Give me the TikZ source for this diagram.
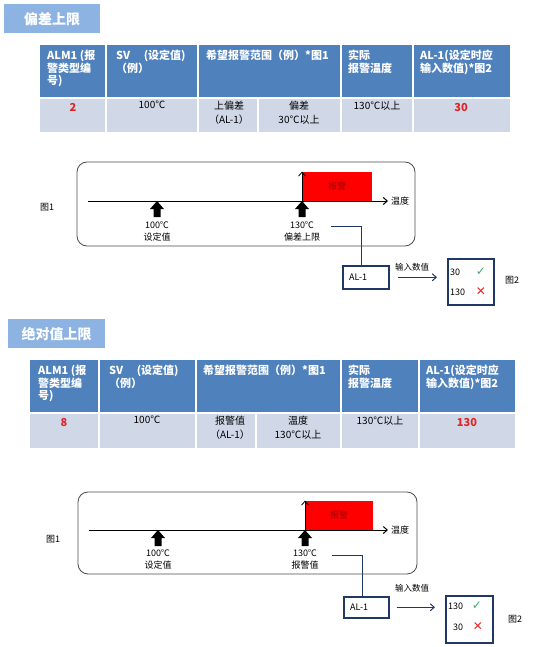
\documentclass[tikz,border=0pt]{standalone}
\usepackage{fontspec}
\setmainfont{Noto Sans CJK SC}
\newfontfamily\symfont{DejaVu Sans}
\usetikzlibrary{arrows.meta,positioning,calc}
\definecolor{hdblue}{HTML}{4F81BD}
\definecolor{rowblue}{HTML}{D0D8E8}
\definecolor{tagblue}{HTML}{8DB3E2}
\definecolor{navy}{HTML}{1F3864}
\definecolor{okgreen}{HTML}{3DAA6E}
\definecolor{ngred}{HTML}{E02424}
\definecolor{darkred}{HTML}{A00000}

% block arrow pointing up, tip at (#1,#2)
\newcommand{\blkarrow}[2]{%
  \fill (#1-3.5,#2+16) -- (#1-3.5,#2+8) -- (#1-7,#2+8) -- (#1,#2) -- (#1+7,#2+8) -- (#1+3.5,#2+8) -- (#1+3.5,#2+16) -- cycle;}

\begin{document}
\begin{tikzpicture}[
  x=1pt, y=-1pt,
  >={Straight Barb[length=4pt,width=7pt]},
  tag/.style={fill=tagblue, text=white, anchor=north west, inner sep=0pt, font=\bfseries\fontsize{14}{16}\selectfont},
  hdtxt/.style={anchor=north west, inner sep=0pt, text=white, align=left, font=\bfseries\fontsize{11}{12.5}\selectfont},
  celltxt/.style={anchor=north, inner sep=0pt, align=center, font=\fontsize{10}{14}\selectfont},
  keytxt/.style={celltxt, text=ngred, font=\bfseries\fontsize{11}{14}\selectfont},
  sep/.style={draw=white, line width=1.5pt},
  frame/.style={draw=black!70, rounded corners=10pt, line width=0.8pt},
  axis/.style={->, line width=1pt},
  small/.style={inner sep=0pt, align=center, font=\fontsize{9}{12}\selectfont},
  alarm/.style={fill=red, anchor=south west, inner sep=0pt, text=darkred, font=\fontsize{9}{10}\selectfont},
  navybox/.style={draw=navy, line width=1.5pt, anchor=north west, inner sep=0pt},
  link/.style={draw=navy, line width=1pt},
  tick/.style={inner sep=0pt, font=\symfont\fontsize{12}{12}\selectfont},
]
\useasboundingbox (0,0) rectangle (537,647);

% ---------- section 1 ----------
\node[tag, minimum width=96, minimum height=29] (tag1) at (4,4) {偏差上限};

\fill[hdblue] (40,45) rectangle (510,98);
\fill[rowblue] (40,98) rectangle (510,132);
\draw[sep] (40,98) -- (510,98);
\foreach \c in {106,198,341,413} \draw[sep] (\c,45) -- (\c,132);
\draw[sep] (258,98) -- (258,132);

\node[hdtxt] (h11) at (47,50) {ALM1 (报\\警类型编\\号)};
\node[hdtxt] (h12) at (116,50) {SV\quad\ (设定值)\\（例）};
\node[hdtxt] (h13) at (206,50) {希望报警范围（例）*图1};
\node[hdtxt] (h14) at (348,50) {实际\\报警温度};
\node[hdtxt] (h15) at (420,50) {AL-1(设定时应\\输入数值)*图2};

\node[keytxt] (d11) at (73,103) {2};
\node[celltxt] (d12) at (152,101) {100℃};
\node[celltxt] (d13) at (229,101) {上偏差\\（AL-1）};
\node[celltxt] (d14) at (299,101) {偏差\\30℃以上};
\node[celltxt] (d15) at (377,101) {130℃以上};
\node[keytxt] (d16) at (461,103) {30};

% figure 1
\draw[frame] (77,162) rectangle (415,246);
\node[small] (fig1a) at (47,207) {图1};
\coordinate (ax1s) at (88,201);
\coordinate (ax1e) at (388,201);
\draw[axis] (ax1s) -- (ax1e);
\node[small, anchor=west] (temp1) at (391,201) {温度};
\node[alarm, minimum width=70, minimum height=29] (alm1) at (302,201) {报警};
\draw[->, line width=0.8pt] (alm1.south west) -- (alm1.north west);
\blkarrow{157}{201}
\blkarrow{302}{201}
\node[small] (sv1) at (157,231) {100℃\\设定值};
\node[small] (lim1) at (302,231) {130℃\\偏差上限};

\node[navybox, minimum width=46, minimum height=23] (ab1) at (342,265) {};
\node[small, anchor=west] at ([xshift=7pt]ab1.west) {AL-1};
\coordinate (c1) at (331,226);
\draw[link] (c1) -| ([xshift=-4pt]ab1.north);
\node[navybox, minimum width=46, minimum height=46] (rb1) at (447,258) {};
\draw[link, ->] ([xshift=8pt]ab1.east) -- ([xshift=-10pt]rb1.west |- ab1.east);
\node[small, font=\fontsize{8.5}{9}\selectfont] (in1) at (412,267) {输入数值};
\node[small, anchor=west] (r11) at (450,272) {30};
\node[tick, text=okgreen] (ok1) at (481,272) {✓};
\node[small, anchor=west] (r12) at (450,292) {130};
\node[tick, text=ngred] (ng1) at (481,292) {✕};
\node[small] (fig2a) at (512,280) {图2};

% ---------- section 2 ----------
\node[tag, minimum width=97, minimum height=29] (tag2) at (8,319) {绝对值上限};

\fill[hdblue] (30,360) rectangle (515,413);
\fill[rowblue] (30,413) rectangle (515,448);
\draw[sep] (30,413) -- (515,413);
\foreach \c in {99,196,341,419} \draw[sep] (\c,360) -- (\c,448);
\draw[sep] (256,413) -- (256,448);

\node[hdtxt] (h21) at (38,365) {ALM1 (报\\警类型编\\号)};
\node[hdtxt] (h22) at (109,365) {SV\quad\ (设定值)\\（例）};
\node[hdtxt] (h23) at (203,365) {希望报警范围（例）*图1};
\node[hdtxt] (h24) at (348,365) {实际\\报警温度};
\node[hdtxt] (h25) at (426,365) {AL-1(设定时应\\输入数值)*图2};

\node[keytxt] (d21) at (64,418) {8};
\node[celltxt] (d22) at (147,416) {100℃};
\node[celltxt] (d23) at (230,416) {报警值\\（AL-1）};
\node[celltxt] (d24) at (298,416) {温度\\130℃以上};
\node[celltxt] (d25) at (380,416) {130℃以上};
\node[keytxt] (d26) at (467,418) {130};

% figure 2
\draw[frame] (78,492) rectangle (417,574);
\node[small] (fig1b) at (53,539) {图1};
\coordinate (ax2s) at (89,530);
\coordinate (ax2e) at (388,530);
\draw[axis] (ax2s) -- (ax2e);
\node[small, anchor=west] (temp2) at (391,530) {温度};
\node[alarm, minimum width=68, minimum height=29] (alm2) at (305,530) {报警};
\draw[->, line width=0.8pt] (alm2.south west) -- (alm2.north west);
\blkarrow{158}{530}
\blkarrow{305}{530}
\node[small] (sv2) at (158,559) {100℃\\设定值};
\node[small] (lim2) at (305,559) {130℃\\报警值};

\node[navybox, minimum width=45, minimum height=21] (ab2) at (343,596) {};
\node[small, anchor=west] at ([xshift=7pt]ab2.west) {AL-1};
\coordinate (c2) at (332,555);
\draw[link] (c2) -| ([xshift=-4pt]ab2.north);
\node[navybox, minimum width=47, minimum height=47] (rb2) at (445,595) {};
\draw[link, ->] ([xshift=7pt]ab2.east) -- ([xshift=-10pt]rb2.west |- ab2.east);
\node[small, font=\fontsize{8.5}{9}\selectfont] (in2) at (412,588) {输入数值};
\node[small, anchor=west] (r21) at (448,606) {130};
\node[tick, text=okgreen] (ok2) at (477,606) {✓};
\node[small] (r22) at (458,627) {30};
\node[tick, text=ngred] (ng2) at (478,627) {✕};
\node[small] (fig2b) at (515,619) {图2};

\end{tikzpicture}
\end{document}
